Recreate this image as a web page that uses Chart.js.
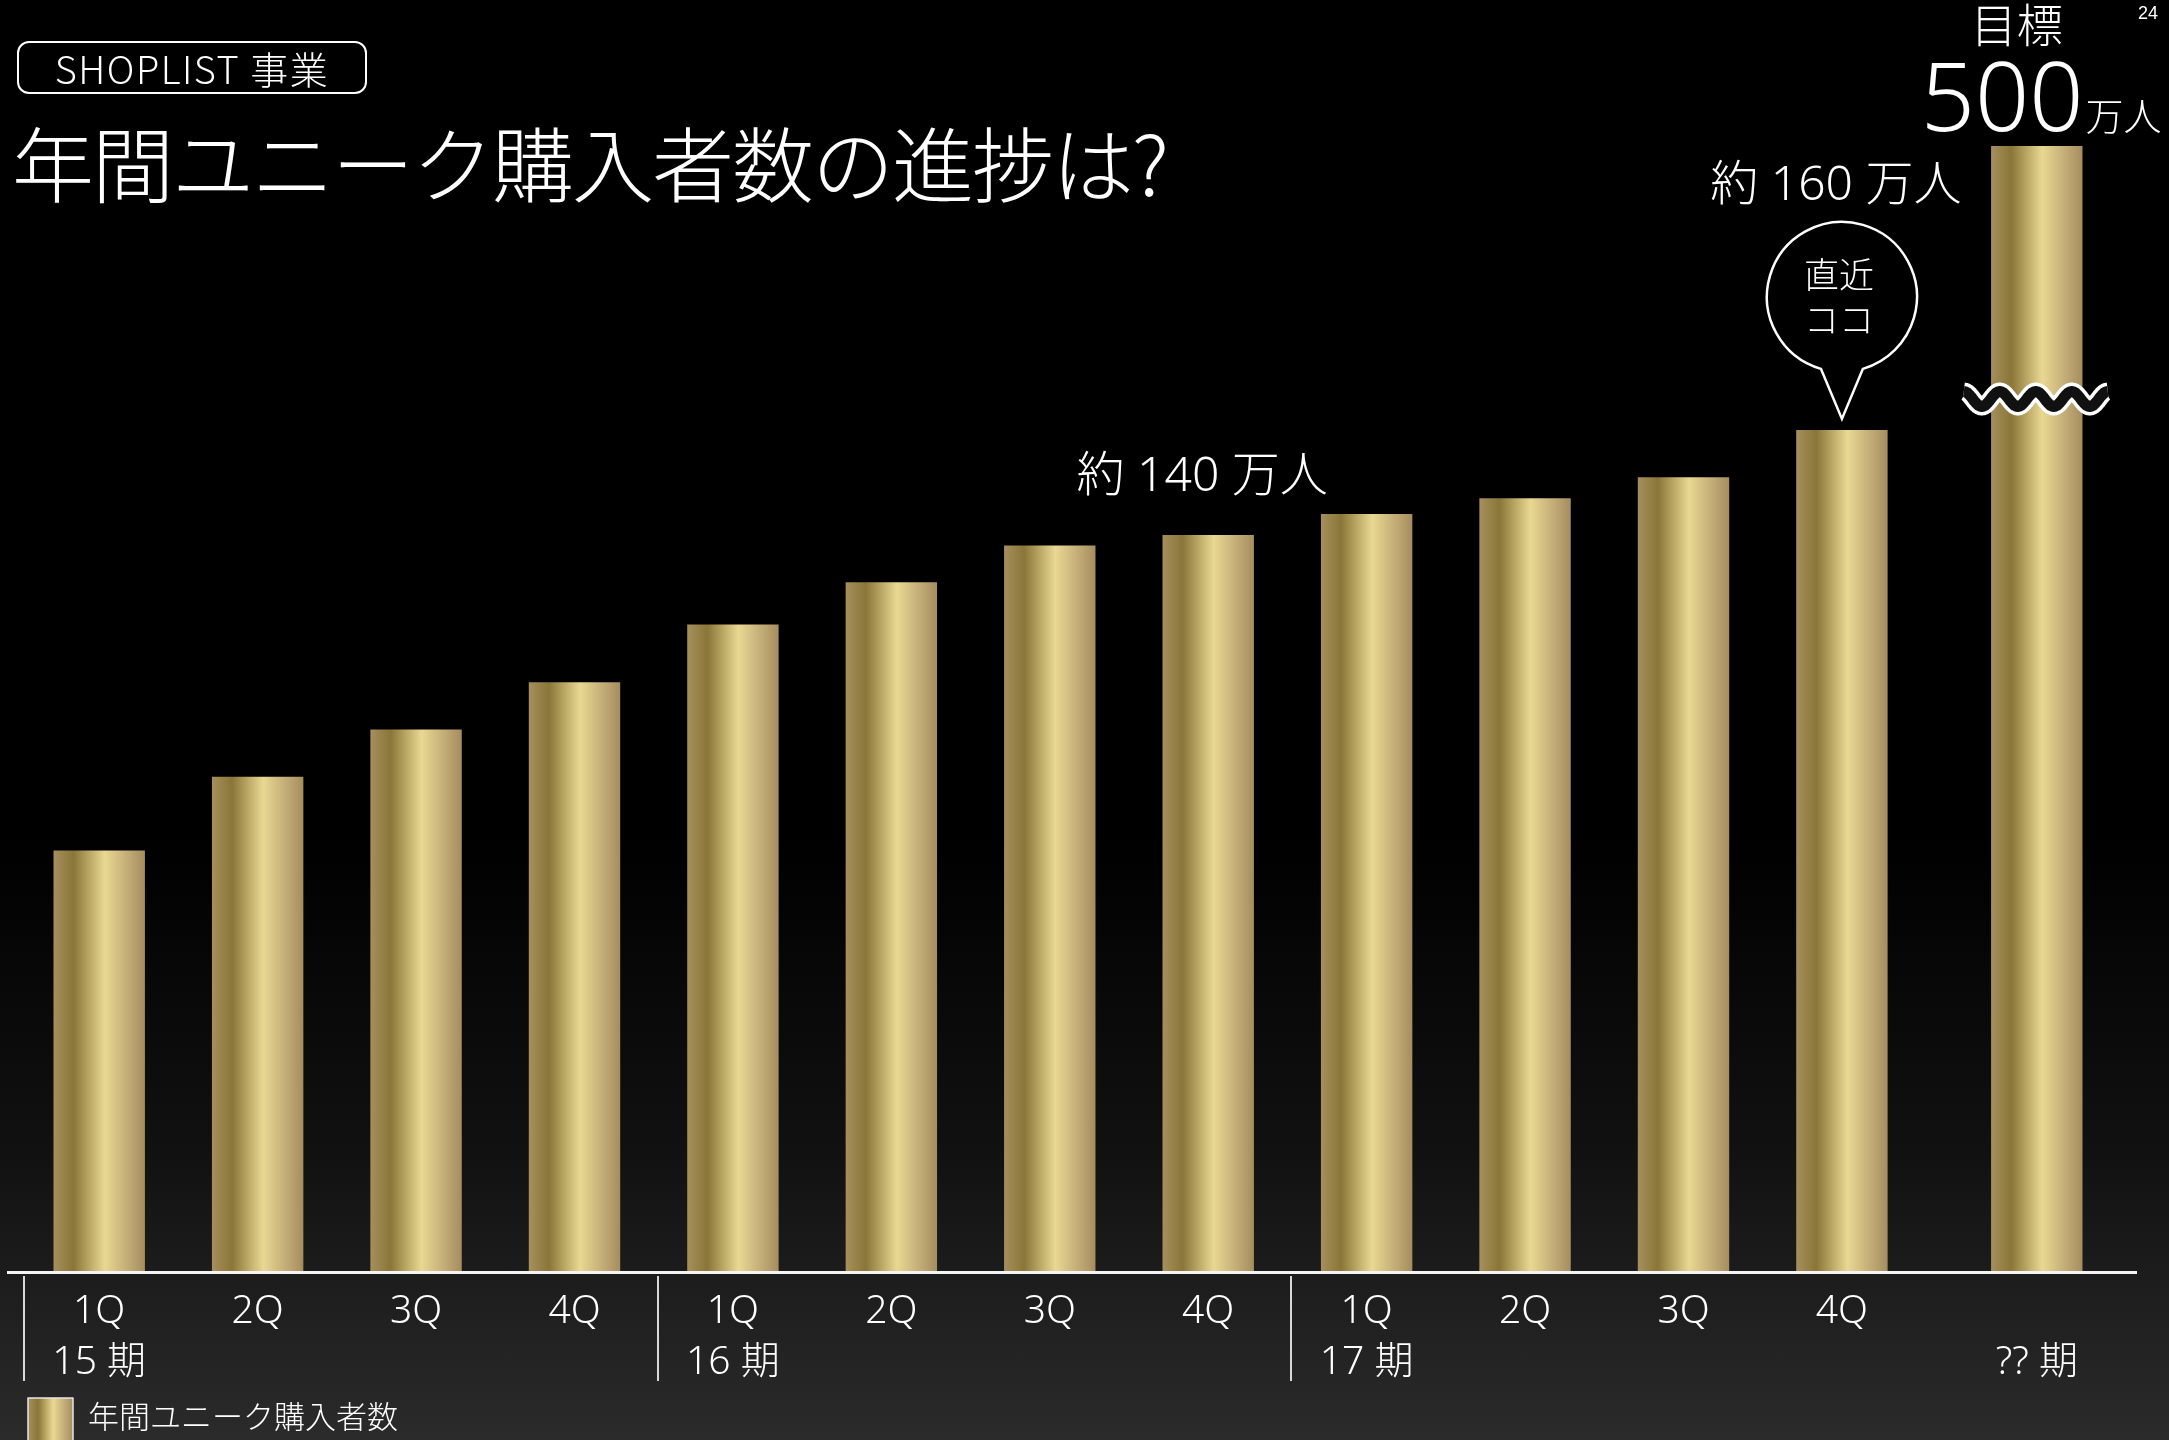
<!DOCTYPE html>
<html lang="ja">
<head>
<meta charset="UTF-8">
<title>年間ユニーク購入者数の進捗</title>
<script src="https://cdn.jsdelivr.net/npm/chart.js"></script>
<style>
    html, body {
        margin: 0;
        padding: 0;
        background: #000;
    }
    .slide {
        position: relative;
        width: 2169px;
        height: 1440px;
        overflow: hidden;
        background: linear-gradient(to bottom, #000 0%, #000 58%, #111 80%, #2b2b2b 100%);
        font-family: "Noto Sans CJK JP", "Noto Sans", sans-serif;
        color: #fff;
    }
    canvas {
        position: absolute;
        left: 0;
        top: 0;
    }
    .tag {
        position: absolute;
        left: 17px;
        top: 41px;
        width: 346px;
        height: 49px;
        border: 2px solid #fff;
        border-radius: 12px;
        font-size: 38px;
        font-weight: 300;
        letter-spacing: 1.5px;
        line-height: 49px;
        text-align: center;
        white-space: nowrap;
    }
    .title {
        position: absolute;
        left: 12px;
        top: 120px;
        font-size: 82px;
        font-weight: 300;
        letter-spacing: -2px;
        line-height: 1;
        white-space: nowrap;
    }
    .page {
        position: absolute;
        right: 11px;
        top: 3px;
        font: 18px "Liberation Sans", Arial, sans-serif;
    }
</style>
</head>
<body>
<div class="slide">
    <canvas id="chart" width="2169" height="1440"></canvas>
    <div class="tag">SHOPLIST 事業</div>
    <div class="title">年間ユニーク購入者数の進捗は?</div>
    <div class="page">24</div>
</div>

<script>
    // quarters of each fiscal period, then the target bar
    const quarterLabels = ['1Q', '2Q', '3Q', '4Q', '1Q', '2Q', '3Q', '4Q', '1Q', '2Q', '3Q', '4Q', ''];
    const periodLabels = ['15 期', '', '', '', '16 期', '', '', '', '17 期', '', '', '', '?? 期'];
    // annual unique buyers, 万人
    const buyers = [80, 94, 103, 112, 123, 131, 138, 140, 144, 147, 151, 160, 500];
    const seriesName = '年間ユニーク購入者数';
    const calloutBars = [7, 11];   // bars that get a "約 N 万人" note
    const latestBar = 11;          // the "直近ココ" bubble

    const Y_MAX = 214;             // axis is cut here, target bar runs past it
    const BREAK_GAP = 0.23;        // extra room before the target bar
    const BAR_FRACTION = 0.577;
    const FONT = '"Noto Sans", "Noto Sans CJK JP", sans-serif';
    const GOLD = [[0, '#a68f5d'], [0.22, '#8a7638'], [0.56, '#e9d892'], [0.8, '#c4ae78'], [1, '#a58d5e']];

    const targetIndex = buyers.length - 1;
    const slotPos = buyers.map((_, i) => i < targetIndex ? i : i + BREAK_GAP);

    function goldGradient(ctx, x0, x1) {
        const g = ctx.createLinearGradient(x0, 0, x1, 0);
        GOLD.forEach(([stop, color]) => g.addColorStop(stop, color));
        return g;
    }

    function goldFill(context) {
        const chart = context.chart;
        if (!chart.chartArea || context.type !== 'data') return GOLD[2][1];
        const xs = chart.scales.x;
        const cx = xs.getPixelForValue(slotPos[context.dataIndex]);
        const w = (xs.getPixelForValue(1) - xs.getPixelForValue(0)) * BAR_FRACTION;
        return goldGradient(chart.ctx, cx - w / 2, cx + w / 2);
    }

    // axis line, period separators, notes, break mark and legend
    const overlay = {
        id: 'overlay',
        afterDraw(chart) {
            const { ctx, chartArea: area } = chart;
            const xs = chart.scales.x;
            const bars = chart.getDatasetMeta(0).data;
            ctx.save();

            ctx.strokeStyle = '#f4f4f4';
            ctx.lineWidth = 3;
            ctx.beginPath();
            ctx.moveTo(7, area.bottom + 1.5);
            ctx.lineTo(2137, area.bottom + 1.5);
            ctx.stroke();

            ctx.strokeStyle = '#d8d8d8';
            ctx.lineWidth = 2;
            quarterLabels.forEach((q, i) => {
                if (q !== '1Q') return;
                const x = Math.round(xs.getPixelForValue(slotPos[i] - 0.5)) + 4;
                ctx.beginPath();
                ctx.moveTo(x, area.bottom + 5);
                ctx.lineTo(x, area.bottom + 110);
                ctx.stroke();
            });

            ctx.fillStyle = '#fff';
            ctx.textAlign = 'center';
            ctx.textBaseline = 'middle';
            ctx.font = `300 48px ${FONT}`;
            calloutBars.forEach(i => {
                const dy = i === latestBar ? -244 : -58;
                ctx.fillText(`約 ${buyers[i]} 万人`, bars[i].x - 6, bars[i].y + dy);
            });

            // speech bubble over the latest quarter
            const lb = bars[latestBar];
            const cx = lb.x, cy = lb.y - 133, r = 75, half = 21;
            const a = Math.atan2(Math.sqrt(r * r - half * half), half);
            ctx.strokeStyle = '#fff';
            ctx.lineWidth = 2.5;
            ctx.beginPath();
            ctx.arc(cx, cy, r, Math.PI - a, a + Math.PI * 2, false);
            ctx.lineTo(cx, lb.y - 11);
            ctx.closePath();
            ctx.stroke();
            ctx.font = `300 35px ${FONT}`;
            ctx.fillText('直近', cx - 3, cy - 19);
            ctx.fillText('ココ', cx - 3, cy + 26);

            // target bar: label and wavy break
            const tb = bars[targetIndex];
            ctx.font = `300 46px ${FONT}`;
            ctx.fillText('目標', tb.x - 20, 29);
            ctx.textAlign = 'left';
            ctx.textBaseline = 'alphabetic';
            ctx.font = `300 95px ${FONT}`;
            const big = String(buyers[targetIndex]);
            ctx.fillText(big, tb.x - 116, 131);
            const bw = ctx.measureText(big).width;
            ctx.font = `300 38px ${FONT}`;
            ctx.fillText('万人', tb.x - 116 + bw + 2, 130);

            const wy = area.top + 253;
            ctx.beginPath();
            for (let dx = 0; dx <= 144; dx++) {
                const y = wy - 7.5 * Math.cos(2 * Math.PI * dx / 36);
                if (dx === 0) ctx.moveTo(tb.x - 73 + dx, y);
                else ctx.lineTo(tb.x - 73 + dx, y);
            }
            ctx.lineJoin = 'round';
            ctx.strokeStyle = '#fff';
            ctx.lineWidth = 18;
            ctx.stroke();
            ctx.strokeStyle = '#111';
            ctx.lineWidth = 11;
            ctx.stroke();

            // legend
            ctx.fillStyle = goldGradient(ctx, 28, 73);
            ctx.fillRect(28, 1398, 45, 48);
            ctx.strokeStyle = '#e6e6e6';
            ctx.lineWidth = 1.5;
            ctx.strokeRect(28, 1398, 45, 48);
            ctx.fillStyle = '#fff';
            ctx.textBaseline = 'middle';
            ctx.font = `300 31px ${FONT}`;
            ctx.fillText(chart.data.datasets[0].label, 88, 1419);

            ctx.restore();
        }
    };

    new Chart(document.getElementById('chart'), {
        type: 'bar',
        data: {
            datasets: [{
                label: seriesName,
                data: buyers.map((v, i) => ({ x: slotPos[i], y: v })),
                backgroundColor: goldFill,
                borderWidth: 0,
                categoryPercentage: 1,
                barPercentage: BAR_FRACTION,
                clip: 0
            }]
        },
        options: {
            responsive: false,
            animation: false,
            layout: { padding: { left: 20, right: 53, top: 146, bottom: 0 } },
            plugins: {
                legend: { display: false },
                tooltip: { enabled: false }
            },
            scales: {
                x: {
                    type: 'linear',
                    offset: false,
                    min: -0.5,
                    max: slotPos[targetIndex] + 0.5,
                    grid: { display: false, drawTicks: false },
                    border: { display: false },
                    afterBuildTicks: scale => {
                        scale.ticks = slotPos.map(v => ({ value: v }));
                    },
                    ticks: {
                        color: '#fff',
                        font: { family: FONT, size: 39, weight: '300', lineHeight: 1.32 },
                        padding: 15,
                        maxRotation: 0,
                        autoSkip: false,
                        callback: (value, i) => [quarterLabels[i], periodLabels[i]]
                    },
                    afterFit: scale => { scale.height = 169; }
                },
                y: {
                    display: false,
                    min: 0,
                    max: Y_MAX
                }
            }
        },
        plugins: [overlay]
    });
</script>
</body>
</html>
